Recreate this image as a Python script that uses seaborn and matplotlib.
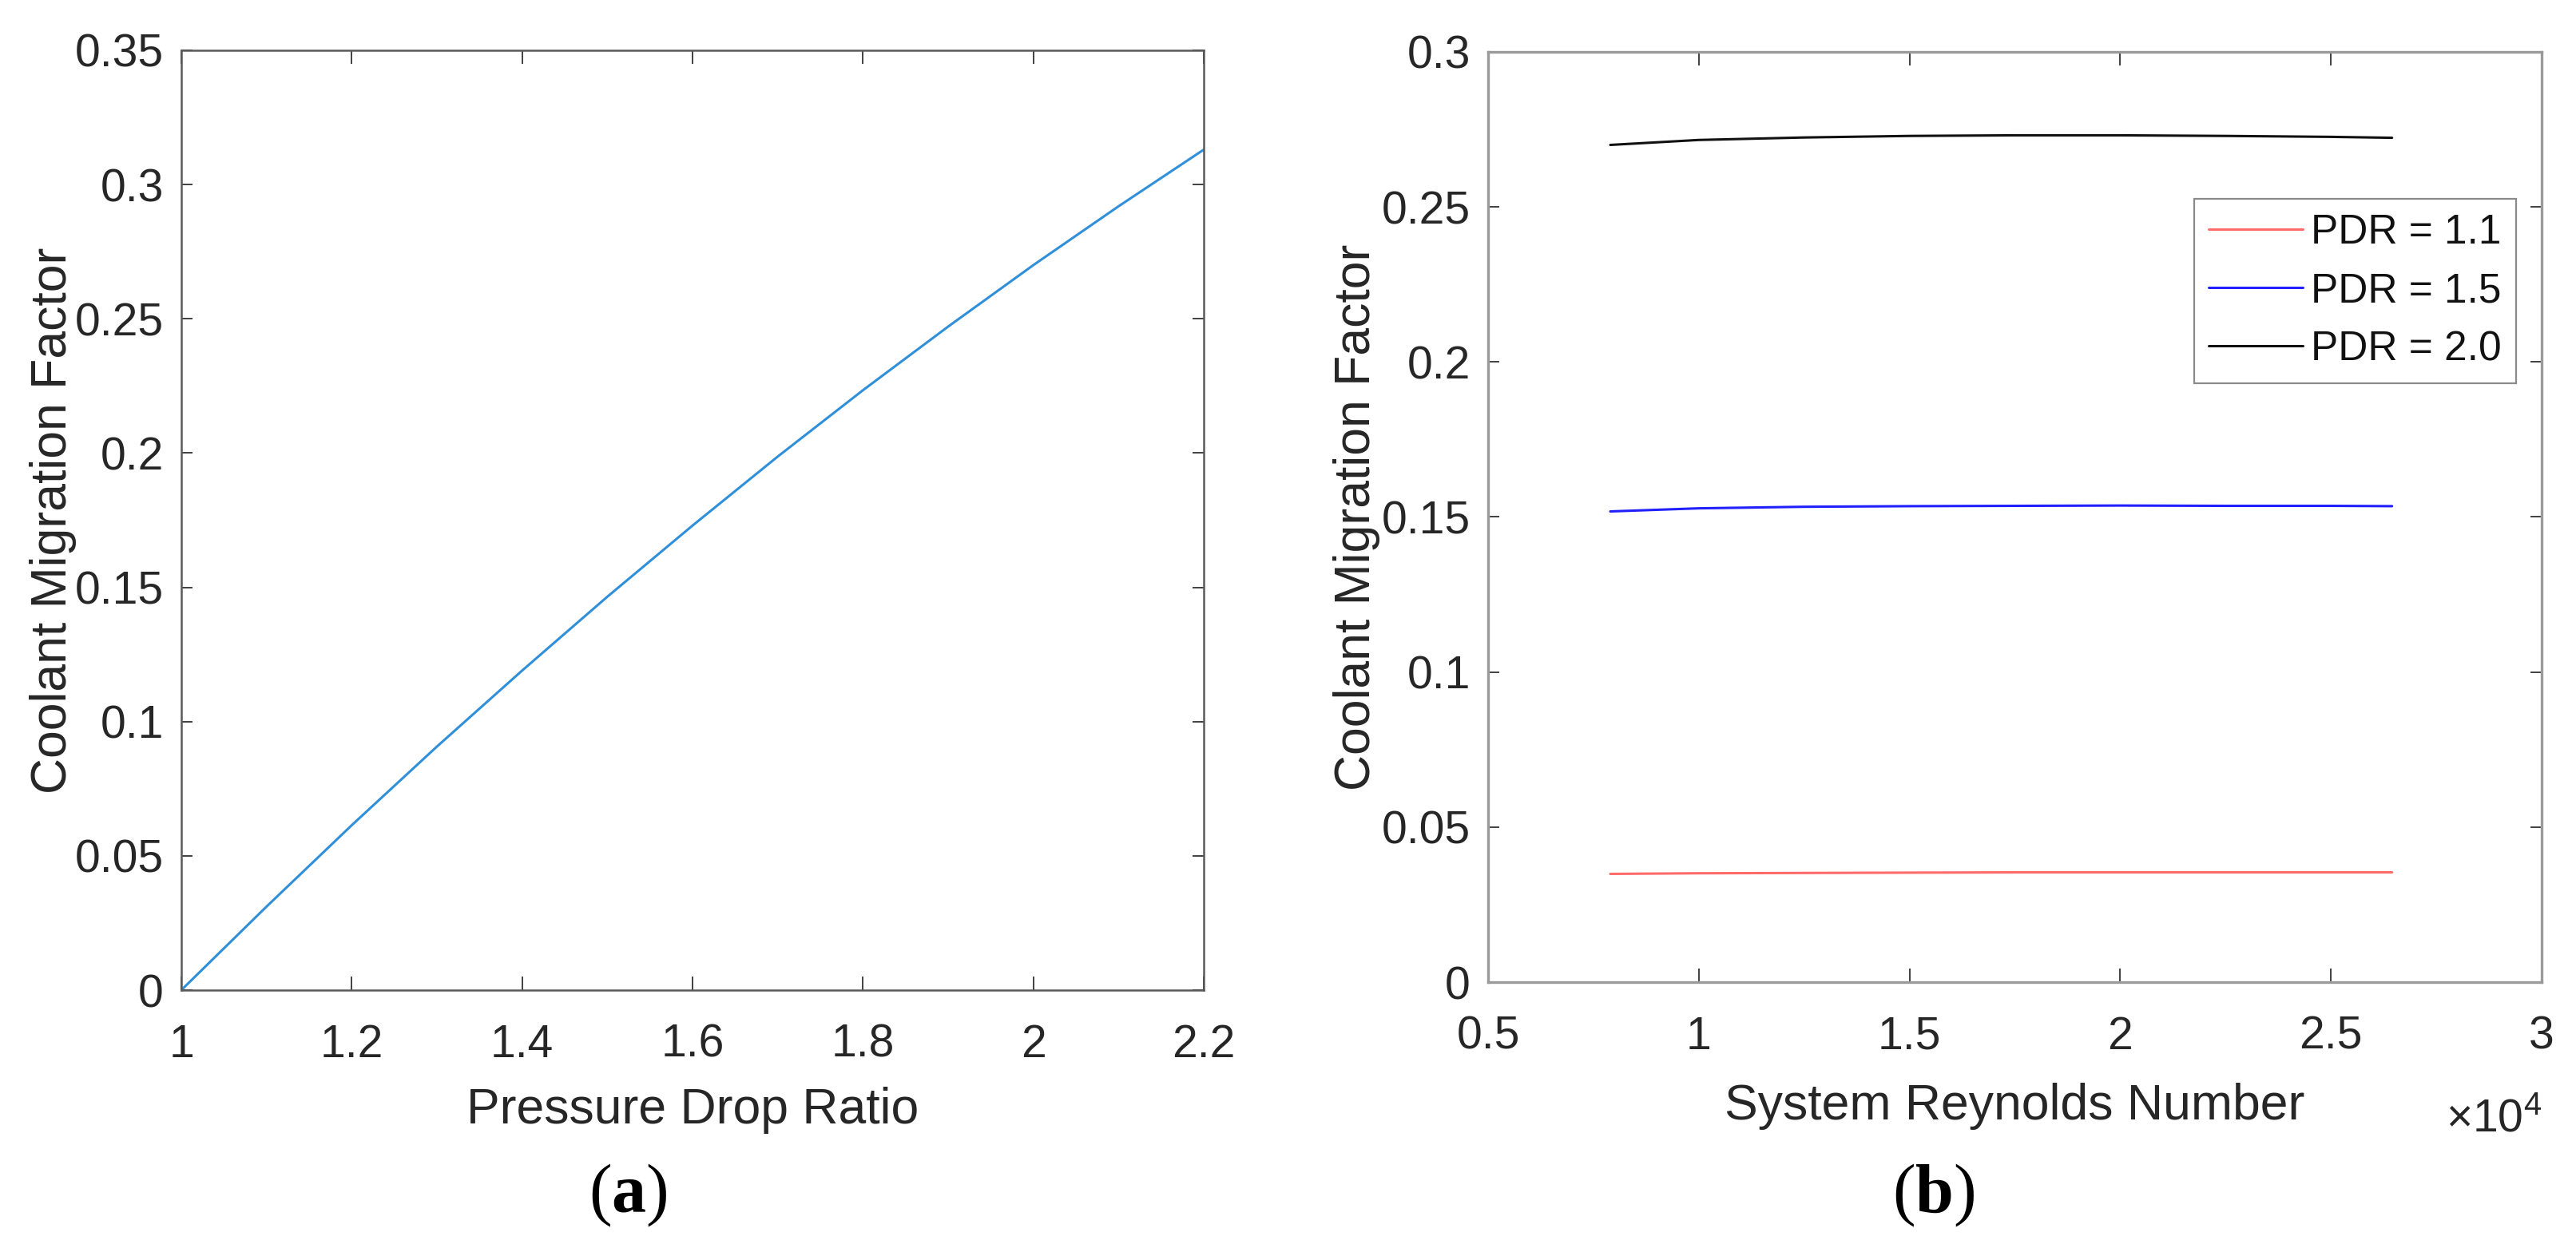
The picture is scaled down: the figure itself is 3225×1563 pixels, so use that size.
import matplotlib
matplotlib.use("Agg")
import numpy as np
import pandas as pd
import matplotlib.pyplot as plt
from matplotlib.ticker import MultipleLocator, FuncFormatter
import seaborn as sns

# =========================================
# DATA
# =========================================

# (a) coolant migration factor vs pressure drop ratio
pdr = [1.0, 1.1, 1.2, 1.3, 1.4, 1.5, 1.6, 1.7, 1.8, 1.9, 2.0, 2.1, 2.2]
cmf_pdr = [0.0, 0.0311, 0.0614, 0.0907, 0.1190, 0.1465, 0.1730,
           0.1987, 0.2234, 0.2471, 0.2700, 0.2919, 0.3130]

# (b) coolant migration factor vs system Reynolds number
reynolds = [7900, 10000, 12500, 15000, 17500, 20000, 22500, 25000, 26450]
cmf_pdr_11 = [0.0349, 0.0351, 0.0352, 0.0353, 0.0354, 0.0354, 0.0354, 0.0354, 0.0354]
cmf_pdr_15 = [0.1518, 0.1528, 0.1533, 0.1535, 0.1536, 0.1537, 0.1536, 0.1536, 0.1535]
cmf_pdr_20 = [0.2700, 0.2716, 0.2724, 0.2729, 0.2731, 0.2731, 0.2729, 0.2726, 0.2723]

series_labels = ["PDR = 1.1", "PDR = 1.5", "PDR = 2.0"]
series_colors = ["#ff6a6a", "#2020ff", "#111111"]

# =========================================
# SETTINGS
# =========================================

sns.set_theme(style="white")
plt.rcParams["font.family"] = ["Liberation Sans", "DejaVu Sans"]
plt.rcParams["mathtext.fontset"] = "custom"
plt.rcParams["mathtext.rm"] = "Liberation Sans"
plt.rcParams["mathtext.bf"] = "Liberation Serif:bold"

TICK_FS = 41
LABEL_FS = 45
LEGEND_FS = 37
TEXT_COLOR = "#262626"

fmt = FuncFormatter(lambda v, p: "%g" % round(v, 4))
fmt_re = FuncFormatter(lambda v, p: "%g" % round(v / 1e4, 4))


def style_axes(ax, spine_color, spine_lw):
    for s in ax.spines.values():
        s.set_visible(True)
        s.set_color(spine_color)
        s.set_linewidth(spine_lw)
    ax.tick_params(axis="both", which="major", direction="in",
                   top=True, right=True, bottom=True, left=True,
                   width=1.4, color="#404040",
                   labelsize=TICK_FS, labelcolor=TEXT_COLOR)
    ax.tick_params(axis="x", length=12, pad=30)
    ax.tick_params(axis="y", length=10, pad=16)
    ax.grid(False)


fig = plt.figure(figsize=(32.25, 15.63), dpi=100)
W, H = 3225, 1563
ax1 = fig.add_axes([227 / W, 1 - 1240 / H, 1280 / W, 1177 / H])
ax2 = fig.add_axes([1863 / W, 1 - 1230 / H, 1319 / W, 1165 / H])

# =========================================
# (a)
# =========================================

df_a = pd.DataFrame({"PDR": pdr, "CMF": cmf_pdr})
sns.lineplot(data=df_a, x="PDR", y="CMF", ax=ax1, color="#2f8fd8",
             linewidth=2.2)
ax1.set_xlim(1, 2.2)
ax1.set_ylim(0, 0.35)
ax1.xaxis.set_major_locator(MultipleLocator(0.2))
ax1.yaxis.set_major_locator(MultipleLocator(0.05))
ax1.xaxis.set_major_formatter(fmt)
ax1.yaxis.set_major_formatter(fmt)
style_axes(ax1, "#5a5a5a", 1.8)
ax1.set_xlabel("Pressure Drop Ratio", fontsize=LABEL_FS, color=TEXT_COLOR)
ax1.set_ylabel("Coolant Migration Factor", fontsize=LABEL_FS, color=TEXT_COLOR)
ax1.xaxis.set_label_coords(0.5, -0.103)
ax1.yaxis.set_label_coords(-0.1023, 0.5)

# =========================================
# (b)
# =========================================

for vals, lab, col in zip([cmf_pdr_11, cmf_pdr_15, cmf_pdr_20],
                          series_labels, series_colors):
    sns.lineplot(x=reynolds, y=vals, ax=ax2, color=col, linewidth=2.2,
                 label=lab)
ax2.set_xlim(5000, 30000)
ax2.set_ylim(0, 0.3)
ax2.xaxis.set_major_locator(MultipleLocator(5000))
ax2.yaxis.set_major_locator(MultipleLocator(0.05))
ax2.xaxis.set_major_formatter(fmt_re)
ax2.yaxis.set_major_formatter(fmt)
style_axes(ax2, "#9a9a9a", 2.4)
ax2.set_xlabel("System Reynolds Number", fontsize=LABEL_FS, color=TEXT_COLOR)
ax2.set_ylabel("Coolant Migration Factor", fontsize=LABEL_FS, color=TEXT_COLOR)
ax2.xaxis.set_label_coords(0.5, -0.108)
ax2.yaxis.set_label_coords(-0.1023, 0.5)
ax2.text(1.0, -0.1597, r"$\times\mathregular{10^{4}}$", transform=ax2.transAxes,
         ha="right", va="baseline", fontsize=TICK_FS, color=TEXT_COLOR)

leg = ax2.legend(loc="upper right", bbox_to_anchor=(0.9757, 0.842),
                 borderaxespad=0, fontsize=LEGEND_FS, frameon=True,
                 fancybox=False, framealpha=1, edgecolor="#8a8a8a",
                 handlelength=2.3, handletextpad=0.2, labelspacing=0.47,
                 borderpad=0.35)
leg.get_frame().set_linewidth(1.6)
for t in leg.get_texts():
    t.set_color("#111111")

# panel labels
fig.text(786 / W, (H - 1518) / H, r"($\mathbf{a}$)", ha="center",
         va="baseline", fontsize=62, family="Liberation Serif", color="black")
fig.text(2421 / W, (H - 1518) / H, r"($\mathbf{b}$)", ha="center",
         va="baseline", fontsize=62, family="Liberation Serif", color="black")

fig.savefig("out.png", dpi=100)
plt.close(fig)
